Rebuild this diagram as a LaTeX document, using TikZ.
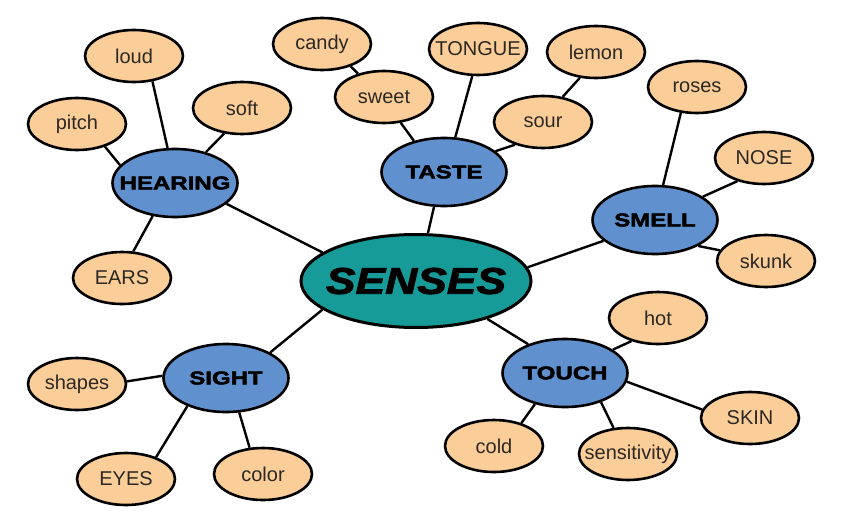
\documentclass[tikz,border=0pt]{standalone}
\usepackage{fontspec}
\setmainfont{Liberation Sans}
\newfontfamily\hubfont[FakeStretch=1.3,FakeBold=2.5]{Liberation Sans}
\newfontfamily\corefont[FakeStretch=1.2,FakeBold=2.5]{Liberation Sans}
\usetikzlibrary{shapes.geometric,backgrounds}
\definecolor{peach}{RGB}{251,205,152}
\definecolor{hubblue}{RGB}{96,145,206}
\definecolor{teal2}{RGB}{22,155,153}
\definecolor{leaftxt}{RGB}{45,40,35}
\tikzset{
  leaf/.style={ellipse, draw=black, line width=2.6pt, fill=peach, minimum width=98pt, minimum height=52pt, inner sep=0pt},
  hub/.style={ellipse, draw=black, line width=2.6pt, fill=hubblue, minimum width=125pt, minimum height=68pt, inner sep=0pt},
  core/.style={ellipse, draw=black, line width=3pt, fill=teal2, minimum width=230pt, minimum height=93pt, inner sep=0pt},
  leaftext/.style={text=leaftxt, font=\fontsize{20}{20}\selectfont, inner sep=0pt},
  hubtext/.style={text=black, font=\hubfont\bfseries\fontsize{18.5}{18.5}\selectfont, inner sep=0pt},
  coretext/.style={text=black, font=\corefont\bfseries\itshape\fontsize{37}{37}\selectfont, inner sep=0pt},
  link/.style={draw=black, line width=2.4pt}
}
\begin{document}
\begin{tikzpicture}[x=1pt,y=-1pt]
\useasboundingbox (0,0) rectangle (850,530);
% core
\node[core, label={[coretext]center:SENSES}] (senses) at (416,281) {};
% hubs
\node[hub, label={[hubtext]center:HEARING}] (hearing) at (175,183) {};
\node[hub, label={[hubtext]center:TASTE}] (taste) at (444,172) {};
\node[hub, label={[hubtext]center:SMELL}] (smell) at (655,220) {};
\node[hub, label={[hubtext]center:SIGHT}] (sight) at (226,378) {};
\node[hub, label={[hubtext]center:TOUCH}] (touch) at (565,373) {};
% leaves
\node[leaf, label={[leaftext]center:loud}] (loud) at (134,56) {};
\node[leaf, label={[leaftext]center:pitch}] (pitch) at (77,124) {};
\node[leaf, label={[leaftext]center:soft}] (soft) at (242,108) {};
\node[leaf, label={[leaftext]center:EARS}] (ears) at (122,278) {};
\node[leaf, label={[leaftext]center:candy}] (candy) at (322,44) {};
\node[leaf, label={[leaftext]center:sweet}] (sweet) at (384,97) {};
\node[leaf, label={[leaftext]center:TONGUE}] (tongue) at (478,49) {};
\node[leaf, label={[leaftext]center:lemon}] (lemon) at (596,52) {};
\node[leaf, label={[leaftext]center:sour}] (sour) at (543,122) {};
\node[leaf, label={[leaftext]center:roses}] (roses) at (697,87) {};
\node[leaf, label={[leaftext]center:NOSE}] (nose) at (764,158) {};
\node[leaf, label={[leaftext]center:skunk}] (skunk) at (766,261) {};
\node[leaf, label={[leaftext]center:hot}] (hot) at (658,318) {};
\node[leaf, label={[leaftext]center:SKIN}] (skin) at (750,418) {};
\node[leaf, label={[leaftext]center:sensitivity}] (sensitivity) at (628,454) {};
\node[leaf, label={[leaftext]center:cold}] (cold) at (494,446) {};
\node[leaf, label={[leaftext]center:color}] (color) at (263,474) {};
\node[leaf, label={[leaftext]center:EYES}] (eyes) at (126,479) {};
\node[leaf, label={[leaftext]center:shapes}] (shapes) at (77,384) {};
% connectors
\begin{scope}[on background layer]
\draw[link] (candy.-38.7) -- (sweet.138.4);
\draw[link] (sweet.-57.3) -- (taste.134);
\draw[link] (tongue.-102.5) -- (taste.72.6);
\draw[link] (lemon.-122.7) -- (sour.52.1);
\draw[link] (sour.-141.3) -- (taste.22.5);
\draw[link] (taste.-106.6) -- (senses.76.2);
\draw[link] (roses.-122.7) -- (smell.77.5);
\draw[link] (nose.-139.2) -- (smell.26.6);
\draw[link] (skunk.167) -- (smell.-31);
\draw[link] (smell.-158.4) -- (senses.7);
\draw[link] (hearing.-124.8) -- (ears.67);
\draw[link] (hearing.-22.5) -- (senses.163.5);
\draw[link] (senses.-163.2) -- (sight.30.6);
\draw[link] (shapes.3.4) -- (sight.178);
\draw[link] (sight.-144.7) -- (eyes.36);
\draw[link] (sight.-69.6) -- (color.117.4);
\draw[link] (senses.-28.4) -- (touch.142.7);
\draw[link] (touch.26.6) -- (hot.-139.4);
\draw[link] (touch.-8.1) -- (skin.170.5);
\draw[link] (touch.-39) -- (sensitivity.119);
\draw[link] (touch.-134) -- (cold.40.6);
\draw[link] (loud.-54.9) -- (hearing.102.9);
\draw[link] (pitch.-39.6) -- (hearing.162.8);
\draw[link] (soft.-125.1) -- (hearing.45.9);
\end{scope}
\end{tikzpicture}
\end{document}
